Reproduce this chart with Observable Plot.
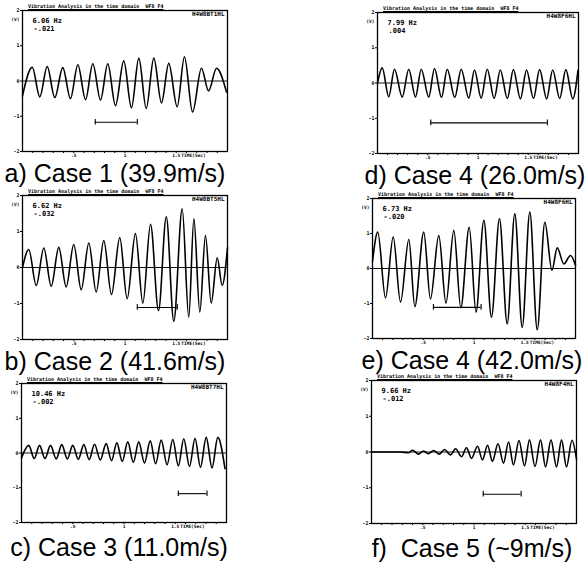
<!DOCTYPE html>
<html><head><meta charset="utf-8">
<script src="https://cdn.jsdelivr.net/npm/d3@7"></script>
<script src="https://cdn.jsdelivr.net/npm/@observablehq/plot@0.6"></script>
<style>
html,body{margin:0;padding:0;background:#fff;}
#chart{position:relative;width:587px;height:562px;overflow:hidden;background:#fff;}
.pn{position:absolute;}
.cap{position:absolute;font-family:"Liberation Sans",Arial,sans-serif;font-size:25px;line-height:14px;white-space:pre;color:#000;transform:translateX(-50%);}
.ttl{position:absolute;font-family:"DejaVu Sans Mono",monospace;font-size:5px;line-height:5px;font-weight:bold;text-decoration:underline;white-space:pre;color:#000;}
</style></head><body><div id="chart"></div>
<script>
// ---- data ----
const captions = ["a) Case 1 (39.9m/s)", "b) Case 2 (41.6m/s)", "c) Case 3 (11.0m/s)", "d) Case 4 (26.0m/s)", "e) Case 4 (42.0m/s)", "f)  Case 5 (~9m/s)"];
const freqLabels = ["6.06 Hz", "6.62 Hz", "10.46 Hz", "7.99 Hz", "6.73 Hz", "9.66 Hz"];
const meanLabels = ["-.021", "-.032", "-.002", ".004", "-.020", "-.012"];
const runCodes = ["H4W8BT1HL", "H4W8BT5HL", "H4W8BT7HL", "H4W8F6HL", "H4W8F6HL", "H4W8F4HL"];
const plotTitle = "Vibration Analysis in the time domain  WF8 F4";
const yTicks = [-2, -1, 0, 1, 2];
const xTicks = [0.5, 1, 1.5];
const xTickLabels = [".5", "1", "1.5"];
const xMinorTicks = [0.1, 0.2, 0.3, 0.4, 0.6, 0.7, 0.8, 0.9, 1.1, 1.2, 1.3, 1.4, 1.6, 1.7, 1.8, 1.9];
const timeLabel = "TIME(Sec)";
const voltLabel = "(V)";

// interval bars (start s, end s, level V)
const barStart = [0.71, 1.12, 1.53, 0.53, 0.60, 1.09];
const barEnd   = [1.12, 1.51, 1.81, 1.69, 1.07, 1.46];
const barLevel = [-1.17, -1.11, -1.17, -1.13, -1.11, -1.18];

// signal extrema (time s, voltage V)
const aTime = [0, 0.095, 0.169, 0.241, 0.315, 0.393, 0.468, 0.540, 0.615, 0.686, 0.761, 0.832, 0.907, 0.988, 1.063, 1.135, 1.207, 1.281, 1.356, 1.427, 1.509, 1.580, 1.659, 1.746, 1.815, 1.893, 1.990];
const aVolt = [-0.42, 0.39, -0.45, 0.41, -0.47, 0.38, -0.50, 0.46, -0.53, 0.49, -0.54, 0.49, -0.70, 0.57, -0.76, 0.65, -0.78, 0.65, -0.62, 0.50, -0.73, 0.69, -0.88, 0.36, -0.28, 0.36, -0.31];

const bTime = [0, 0.061, 0.134, 0.208, 0.280, 0.354, 0.426, 0.500, 0.573, 0.647, 0.719, 0.793, 0.868, 0.949, 1.021, 1.102, 1.174, 1.249, 1.327, 1.403, 1.476, 1.558, 1.622, 1.672, 1.730, 1.785, 1.841, 1.900, 1.948, 2.0];
const bVolt = [0.0, 0.50, -0.50, 0.54, -0.52, 0.56, -0.54, 0.64, -0.62, 0.68, -0.68, 0.75, -0.75, 0.83, -0.87, 0.94, -0.99, 1.20, -1.20, 1.41, -1.49, 1.63, -1.38, 1.35, -1.24, 0.89, -0.99, 0.27, -0.50, 0.55];

const cTime = [0, 0.071, 0.124, 0.176, 0.229, 0.283, 0.339, 0.393, 0.447, 0.500, 0.554, 0.608, 0.660, 0.712, 0.769, 0.826, 0.878, 0.930, 0.983, 1.037, 1.091, 1.144, 1.200, 1.256, 1.309, 1.363, 1.420, 1.476, 1.530, 1.583, 1.639, 1.693, 1.746, 1.802, 1.859, 1.915, 1.985];
const cVolt = [-0.14, 0.22, -0.16, 0.22, -0.16, 0.22, -0.17, 0.24, -0.17, 0.22, -0.18, 0.24, -0.19, 0.25, -0.20, 0.27, -0.22, 0.29, -0.24, 0.32, -0.27, 0.32, -0.29, 0.35, -0.31, 0.37, -0.34, 0.39, -0.37, 0.41, -0.39, 0.42, -0.41, 0.45, -0.43, 0.45, -0.45];

const dTime = [0, 0.047, 0.112, 0.169, 0.246, 0.311, 0.378, 0.435, 0.510, 0.567, 0.637, 0.694, 0.769, 0.833, 0.908, 0.965, 1.032, 1.092, 1.161, 1.222, 1.292, 1.352, 1.422, 1.483, 1.552, 1.613, 1.683, 1.743, 1.813, 1.874, 1.943, 1.995];
const dVolt = [0.0, 0.43, -0.39, 0.39, -0.40, 0.39, -0.40, 0.39, -0.40, 0.41, -0.41, 0.39, -0.41, 0.39, -0.43, 0.37, -0.43, 0.39, -0.44, 0.37, -0.44, 0.38, -0.45, 0.37, -0.44, 0.38, -0.45, 0.37, -0.44, 0.38, -0.45, 0.36];

const eTime = [0, 0.052, 0.128, 0.204, 0.276, 0.358, 0.417, 0.505, 0.571, 0.653, 0.724, 0.801, 0.870, 0.953, 1.020, 1.097, 1.172, 1.251, 1.327, 1.402, 1.475, 1.550, 1.623, 1.698, 1.768, 1.820, 1.885, 1.951, 2.0];
const eVolt = [0.20, 1.04, -0.84, 0.90, -0.96, 0.83, -1.09, 1.04, -0.87, 0.94, -0.99, 1.09, -1.12, 1.18, -1.25, 1.38, -1.39, 1.42, -1.58, 1.56, -1.68, 1.61, -1.75, 1.32, -0.05, 0.59, 0.13, 0.37, 0.09];

const fTime = [0, 0.283, 0.361, 0.400, 0.459, 0.507, 0.556, 0.605, 0.663, 0.712, 0.771, 0.820, 0.878, 0.927, 0.976, 1.034, 1.083, 1.132, 1.180, 1.234, 1.288, 1.337, 1.385, 1.439, 1.493, 1.541, 1.595, 1.649, 1.698, 1.751, 1.805, 1.854, 1.902, 1.956, 2.0];
const fVolt = [0.00, 0.00, -0.02, 0.05, -0.06, 0.03, -0.05, 0.04, -0.06, 0.07, -0.08, 0.09, -0.13, 0.12, -0.18, 0.16, -0.22, 0.19, -0.26, 0.23, -0.31, 0.28, -0.36, 0.32, -0.39, 0.34, -0.41, 0.34, -0.42, 0.34, -0.42, 0.34, -0.42, 0.33, -0.20];

// ---- layout (pixel positions of each panel frame and caption) ----
const times = [aTime, bTime, cTime, dTime, eTime, fTime];
const volts = [aVolt, bVolt, cVolt, dVolt, eVolt, fVolt];
const frames = [
  {left: 22, right: 227, top: 10, bottom: 151, capX: 115, capBase: 182},
  {left: 22, right: 227, top: 195, bottom: 339, capX: 115, capBase: 370},
  {left: 21, right: 226, top: 383, bottom: 522, capX: 119, capBase: 556},
  {left: 377, right: 578, top: 12, bottom: 153, capX: 475, capBase: 184},
  {left: 372, right: 575, top: 198, bottom: 338, capX: 472, capBase: 369},
  {left: 371, right: 576, top: 380, bottom: 523, capX: 472, capBase: 557}
];

const chart = document.getElementById("chart");
const mono = "DejaVu Sans Mono";
const ink = "#000";

frames.forEach((p, i) => {
  const mL = 20, mR = 8, mT = 12, mB = 18;
  const sig = times[i].map((t, j) => ({t, v: volts[i][j]}));
  const bar = [{x1: barStart[i], x2: barEnd[i], y: barLevel[i]}];
  const caps = [barStart[i], barEnd[i]].map(x => ({x, y1: barLevel[i] - 0.08, y2: barLevel[i] + 0.08}));
  const svg = Plot.plot({
    width: p.right - p.left + mL + mR,
    height: p.bottom - p.top + mT + mB,
    marginLeft: mL, marginRight: mR, marginTop: mT, marginBottom: mB,
    style: {background: "none", overflow: "visible", fontFamily: mono, color: ink},
    x: {domain: [0, 2]},
    y: {domain: [-2, 2]},
    marks: [
      Plot.ruleY([0], {stroke: "#111", strokeWidth: 1}),
      Plot.line(sig, {x: "t", y: "v", curve: "monotone-x", stroke: ink, strokeWidth: 1.6}),
      Plot.ruleY(bar, {x1: "x1", x2: "x2", y: "y", stroke: ink, strokeWidth: 1.1}),
      Plot.ruleX(caps, {x: "x", y1: "y1", y2: "y2", stroke: ink, strokeWidth: 1.1}),
      Plot.frame({stroke: ink, strokeWidth: 1.3}),
      Plot.axisY({ticks: yTicks, tickSize: 2, tickPadding: 1, fontSize: 5, fontWeight: "bold", fill: ink, label: null, tickFormat: d => String(d)}),
      Plot.axisX({ticks: xMinorTicks, tickSize: 2, tickFormat: () => "", label: null}),
      Plot.axisX({ticks: xTicks, tickSize: 2, tickPadding: 0, fontSize: 4.5, fontWeight: "bold", fill: ink, label: null, tickFormat: (d, k) => xTickLabels[k]}),
      Plot.text([voltLabel], {frameAnchor: "top-left", dx: -3, dy: 7, textAnchor: "end", fontSize: 4.5, fontWeight: "bold", fill: ink}),
      Plot.text([freqLabels[i]], {frameAnchor: "top-left", dx: 10, dy: 12, textAnchor: "start", lineAnchor: "bottom", fontSize: 7, fontWeight: "bold", fill: ink}),
      Plot.text([meanLabels[i]], {frameAnchor: "top-left", dx: 11, dy: 20.5, textAnchor: "start", lineAnchor: "bottom", fontSize: 7, fontWeight: "bold", fill: ink}),
      Plot.text([runCodes[i]], {frameAnchor: "top-right", dx: -3, dy: 5.5, textAnchor: "end", lineAnchor: "bottom", fontSize: 6, fontWeight: "bold", fill: ink}),
      Plot.text([{x: 1.5}], {x: "x", text: () => timeLabel, frameAnchor: "bottom", dx: 5, dy: 2, lineAnchor: "top", textAnchor: "start", fontSize: 4.5, fontWeight: "bold", fill: ink})
    ]
  });
  svg.classList.add("pn");
  svg.style.left = (p.left - mL) + "px";
  svg.style.top = (p.top - mT) + "px";
  chart.appendChild(svg);

  const t = document.createElement("div");
  t.className = "ttl";
  t.textContent = plotTitle;
  t.style.left = (p.left + 6) + "px";
  t.style.top = (p.top - 6) + "px";
  chart.appendChild(t);

  const c = document.createElement("div");
  c.className = "cap";
  c.textContent = captions[i];
  c.style.left = p.capX + "px";
  c.style.top = (p.capBase - 15.7) + "px";
  chart.appendChild(c);
});
</script></body></html>
